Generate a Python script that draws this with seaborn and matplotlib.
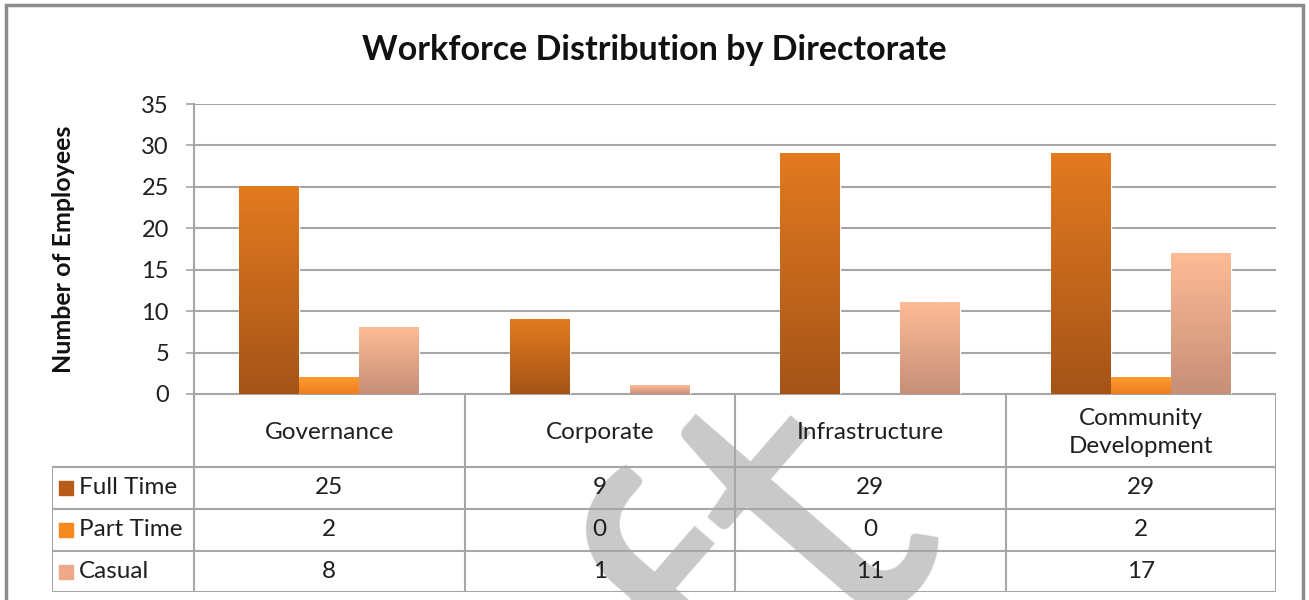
import matplotlib
matplotlib.use('Agg')
import matplotlib.pyplot as plt
from matplotlib.colors import LinearSegmentedColormap
import seaborn as sns
import pandas as pd
import numpy as np

directorates = ['Governance', 'Corporate', 'Infrastructure', 'Community\nDevelopment']
series = ['Full Time', 'Part Time', 'Casual']
full_time = [25, 9, 29, 29]
part_time = [2, 0, 0, 2]
casual = [8, 1, 11, 17]
yticks = [0, 5, 10, 15, 20, 25, 30, 35]

# gradient top / bottom colours per series
grad = {'Full Time': ('#E27A20', '#A55418'),
        'Part Time': ('#FF9C30', '#EE7D1E'),
        'Casual': ('#FDBB96', '#C78F78')}
swatch = {'Full Time': '#B75C1A', 'Part Time': '#F7891F', 'Casual': '#EDA98A'}

rows = []
for s, vals in zip(series, [full_time, part_time, casual]):
    for d, v in zip(directorates, vals):
        rows.append({'Directorate': d, 'Type': s, 'Employees': v})
df = pd.DataFrame(rows)

sns.set_style('white')
plt.rcParams['font.family'] = ['Lato', 'DejaVu Sans']

W, H = 1309, 600
fig = plt.figure(figsize=(W / 100, H / 100), dpi=100)
grid_col = '#A6A6A6'
txt_col = '#1f1f1f'

ax = fig.add_axes([194 / W, (H - 394) / H, 1082 / W, 290 / H])
ax.patch.set_alpha(0)
sns.barplot(data=df, x='Directorate', y='Employees', hue='Type', hue_order=series,
            palette=swatch, width=0.664, gap=0, legend=False, ax=ax, zorder=2)
ax.set_ylim(0, 35)
ax.set_xlim(-0.5, 3.5)

# replace flat fills with vertical gradients like Excel
for cont, s in zip(ax.containers, series):
    cmap = LinearSegmentedColormap.from_list(s, [grad[s][1], grad[s][0]])
    for p in cont.patches:
        h = p.get_height()
        if h <= 0:
            p.set_visible(False)
            continue
        x0 = p.get_x()
        ax.imshow(np.linspace(0, 1, 64).reshape(-1, 1), cmap=cmap, origin='lower',
                  extent=[x0, x0 + p.get_width(), 0, h], aspect='auto', zorder=2)
        p.set_facecolor('none')
ax.set_ylim(0, 35)
ax.set_xlim(-0.5, 3.5)

ax.set_yticks(yticks)
ax.set_yticklabels([str(t) for t in yticks], fontsize=17, color=txt_col)
ax.tick_params(axis='y', length=6, width=1.2, color=grid_col, pad=12, direction='out')
ax.yaxis.set_ticks_position('left')
ax.set_xticks([])
ax.set_xlabel('')
ax.set_ylabel('Number of Employees', fontsize=18, fontweight='bold', labelpad=48,
              color='#111111')
ax.grid(axis='y', color=grid_col, linewidth=1.5, zorder=0)
ax.set_axisbelow(True)
for side in ['top', 'right', 'bottom']:
    ax.spines[side].set_visible(False)
ax.spines['left'].set_color(grid_col)
ax.spines['left'].set_linewidth(1.5)

# data table below the plot area
tab = fig.add_axes([52 / W, (H - 592) / H, 1224 / W, 198 / H])
tab.patch.set_alpha(0)
lab_w = 142 / 270.5
tab.set_xlim(-0.5 - lab_w, 3.5)
tab.set_ylim(198, 0)
tab.axis('off')
edges = [0, 73, 115, 157, 198]
n = len(directorates)
lk = dict(color=grid_col, linewidth=1.5)
tab.plot([-0.5, n - 0.5], [0, 0], **lk)
for y in edges[1:]:
    tab.plot([-0.5 - lab_w, n - 0.5], [y, y], **lk)
for i in range(n + 1):
    tab.plot([i - 0.5, i - 0.5], [0, edges[-1]], **lk)
tab.plot([-0.5 - lab_w, -0.5 - lab_w], [edges[1], edges[-1]], **lk)

for i, d in enumerate(directorates):
    tab.text(i, (edges[0] + edges[1]) / 2 + 2, d, ha='center', va='center',
             fontsize=17.5, color=txt_col, linespacing=1.45)
for r, (s, vals) in enumerate(zip(series, [full_time, part_time, casual])):
    yc = (edges[r + 1] + edges[r + 2]) / 2
    tab.scatter([-0.5 - lab_w + 0.05], [yc], marker='s', s=110, color=swatch[s], zorder=3)
    tab.text(-0.5 - lab_w + 0.1, yc, s, ha='left', va='center', fontsize=17.5, color=txt_col)
    for i, v in enumerate(vals):
        tab.text(i, yc, str(v), ha='center', va='center', fontsize=17.5, color=txt_col)

fig.suptitle('Workforce Distribution by Directorate', y=1 - 50 / H, va='center',
             fontsize=24.5, fontweight='bold', color='#111111')

# chart frame
fig.patches.append(plt.Rectangle((6 / W, -0.05), (1303 - 6) / W, 1.05 - 5 / H,
                                 transform=fig.transFigure, fill=False,
                                 edgecolor='#8C8C8C', linewidth=2.5))

# watermark
fig.text(942 / W, (H - 515) / H, 'Draft', rotation=49, rotation_mode='anchor',
         ha='right', va='baseline', fontsize=300, color='#C9C9C9', zorder=-1)

fig.savefig('out.png', dpi=100, facecolor='white')
